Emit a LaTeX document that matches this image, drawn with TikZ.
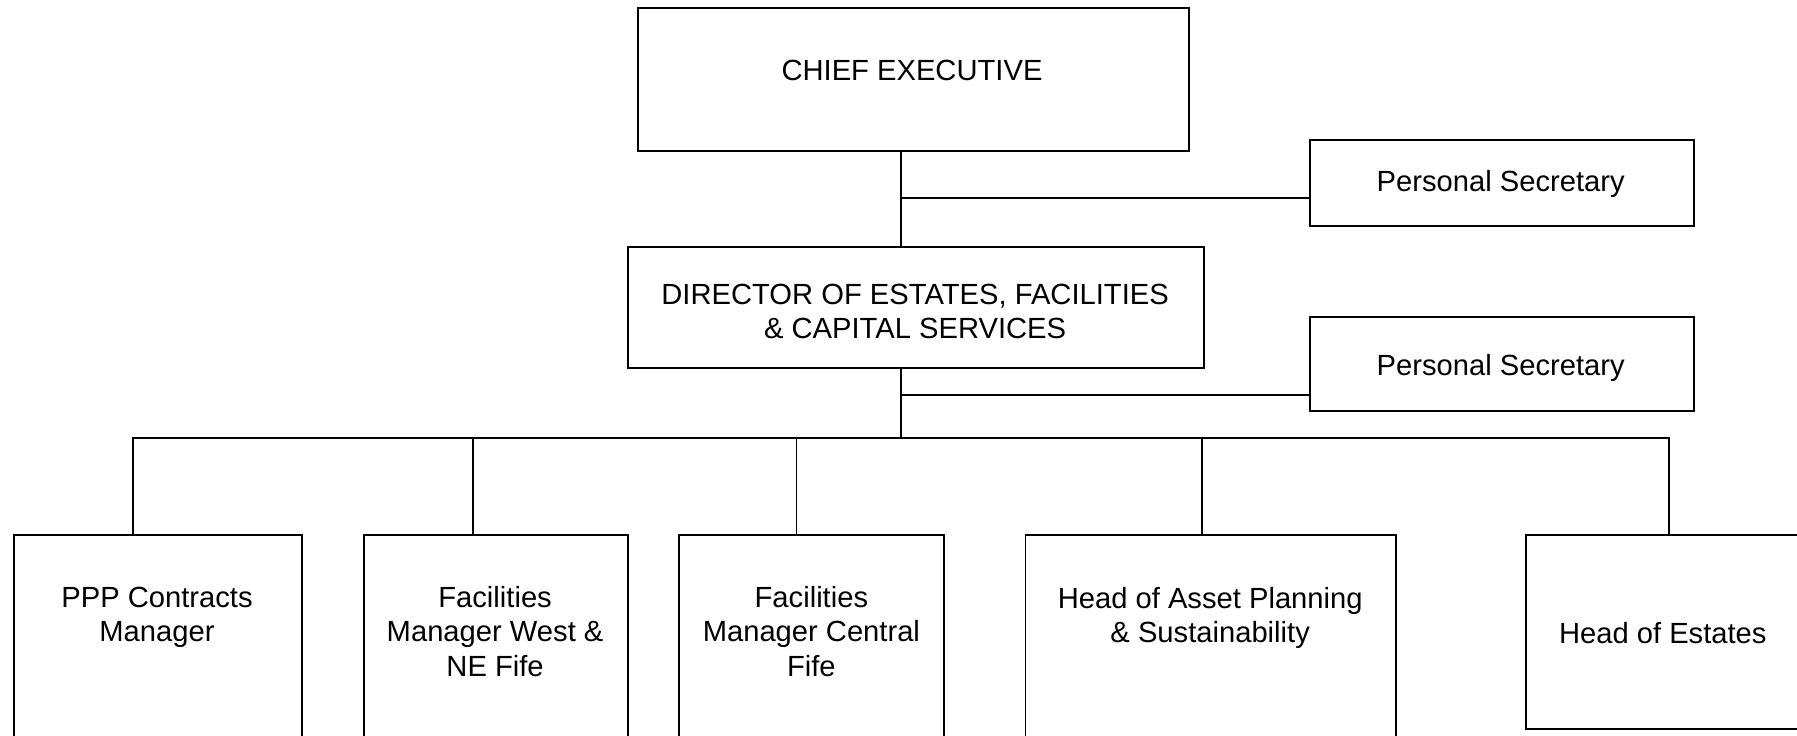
\documentclass[tikz,border=0pt]{standalone}
\usepackage{fontspec}
\setmainfont{Liberation Sans}
\usetikzlibrary{positioning}

\begin{document}
\begin{tikzpicture}[
    post/.style={draw, line width=0.55pt, inner sep=0pt, anchor=north west},
    txt/.style={align=center, inner sep=0pt, font=\fontsize{8.3}{9.7}\selectfont},
    link/.style={line width=0.55pt}]
  % page frame
  \clip (0,0) rectangle (17.97,-7.35);

  % Define the main positions
  \def\trunkX{9.008}
  \def\busY{-4.378}
  \def\rowTop{-5.34}

  % top of the chart
  \node[post, minimum width=5.512cm, minimum height=1.432cm] (ce) at (6.372,-0.069) {};
  \node[txt] (ceText) at (9.12,-0.70) {CHIEF EXECUTIVE};

  \node[post, minimum width=3.84cm, minimum height=0.859cm] (ps1) at (13.087,-1.387) {};
  \node[txt] (ps1Text) at (15.007,-1.835) {Personal Secretary};

  \node[post, minimum width=5.764cm, minimum height=1.203cm] (dir) at (6.269,-2.464) {};
  \node[txt] (dirText) at (9.151,-3.115) {DIRECTOR OF ESTATES, FACILITIES\\\& CAPITAL SERVICES};

  \node[post, minimum width=3.84cm, minimum height=0.94cm] (ps2) at (13.087,-3.163) {};
  \node[txt] (ps2Text) at (15.007,-3.68) {Personal Secretary};

  % the managers row
  \node[post, minimum width=2.888cm, minimum height=2.3cm] (ppp) at (0.126,\rowTop) {};
  \node[post, minimum width=2.636cm, minimum height=2.3cm] (west) at (3.633,\rowTop) {};
  \node[post, minimum width=2.648cm, minimum height=2.3cm] (central) at (6.784,\rowTop) {};
  \node[post, minimum width=3.702cm, minimum height=2.3cm] (asset) at (10.245,\rowTop) {};
  \node[post, minimum width=2.75cm, minimum height=1.937cm] (estates) at (15.253,\rowTop) {};

  \node[txt] (pppText) at (1.570,-6.175) {PPP Contracts\\Manager};
  \node[txt] (westText) at (4.951,-6.315) {Facilities\\Manager West \&\\NE Fife};
  \node[txt] (centralText) at (8.114,-6.315) {Facilities\\Manager Central\\Fife};
  \node[txt] (assetText) at (12.102,-6.175) {Head of Asset Planning\\\& Sustainability};
  \node[txt] (estatesText) at (16.628,-6.33) {Head of Estates};

  % lines between the boxes
  \coordinate (trunk) at (\trunkX,0);
  \coordinate (tee1) at (\trunkX,-1.983);
  \coordinate (tee2) at (\trunkX,-3.954);
  \coordinate (bus) at (\trunkX,\busY);

  \draw[link] (ce.south -| trunk) -- (dir.north -| trunk);
  \draw[link] (tee1) -- (tee1 -| ps1.west);
  \draw[link] (dir.south -| trunk) -- (bus);
  \draw[link] (tee2) -- (tee2 -| ps2.west);

  \foreach \name/\x in {ppp/1.329, west/4.733, central/7.965, asset/12.022, estates/16.686} {
    \draw[link] (\name.north -| \x,0) |- (bus);
  }

\end{tikzpicture}
\end{document}
